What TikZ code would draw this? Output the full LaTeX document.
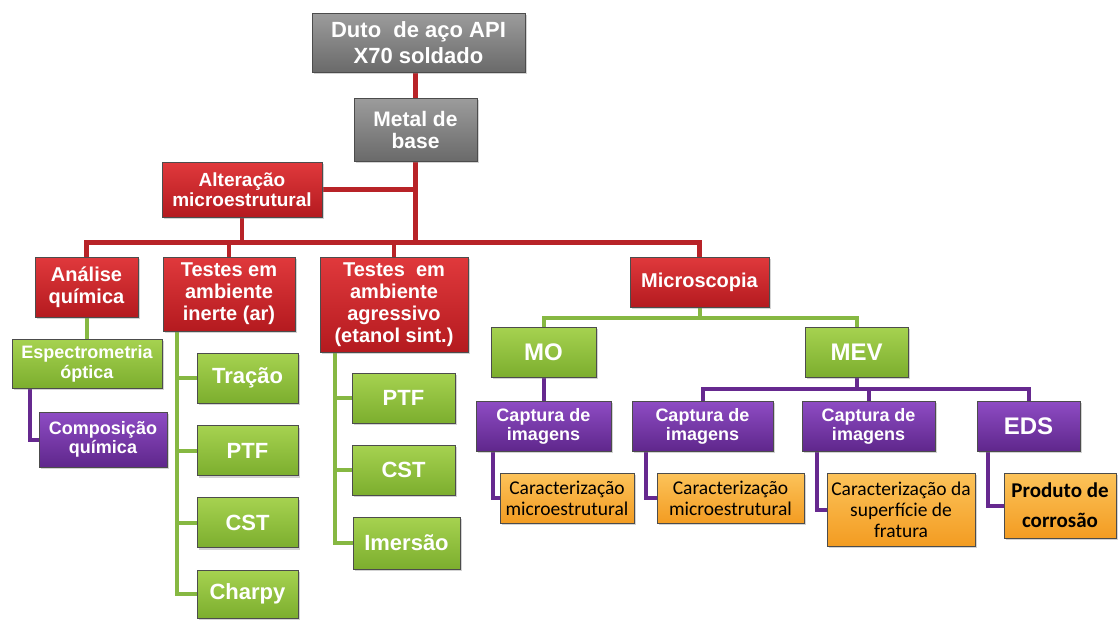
\documentclass[tikz,border=0pt]{standalone}
\usepackage{fontspec}
\setmainfont{Liberation Sans}
\newfontfamily\calib{Carlito}
\usetikzlibrary{calc,shadows,backgrounds}

\definecolor{cinzaclaro}{HTML}{9C9C9C}
\definecolor{cinzaesc}{HTML}{6A6A6A}
\definecolor{vermclaro}{HTML}{E0393C}
\definecolor{vermesc}{HTML}{B41A1F}
\definecolor{verdeclaro}{HTML}{A6D250}
\definecolor{verdeesc}{HTML}{7CAE2E}
\definecolor{roxoclaro}{HTML}{8E4CC4}
\definecolor{roxoesc}{HTML}{5F278C}
\definecolor{laranjaclaro}{HTML}{FCC35A}
\definecolor{laranjaesc}{HTML}{F39C22}
\definecolor{linhaverm}{HTML}{B82328}
\definecolor{linhaverde}{HTML}{86B842}
\definecolor{linharoxa}{HTML}{66298F}

\tikzset{
  caixa/.style={draw=black!70, line width=0.8pt, align=center, inner sep=0pt,
    text=white, drop shadow={shadow xshift=2pt, shadow yshift=-2pt, opacity=0.35}},
  wh/.style 2 args={minimum width=#1pt, minimum height=#2pt},
  fs/.style 2 args={font=\bfseries\fontsize{#1}{#2}\selectfont},
  cinzabox/.style={caixa, top color=cinzaclaro, bottom color=cinzaesc},
  vermbox/.style={caixa, top color=vermclaro, bottom color=vermesc},
  verdebox/.style={caixa, top color=verdeclaro, bottom color=verdeesc},
  roxobox/.style={caixa, top color=roxoclaro, bottom color=roxoesc},
  laranjabox/.style={caixa, top color=laranjaclaro, bottom color=laranjaesc,
    text=black, font=\calib\fontsize{19.5}{21}\selectfont},
  ligverm/.style={draw=linhaverm, line width=4.5pt},
  ligverde/.style={draw=linhaverde, line width=4pt},
  ligroxa/.style={draw=linharoxa, line width=4pt},
}

\begin{document}
\begin{tikzpicture}[x=1pt,y=-1pt]
  \useasboundingbox (0,0) rectangle (1118,619);

  \node[cinzabox, wh={213}{59}, fs={22}{26}] (duto) at (418.5,42.5) {Duto\ \ de aço API\\X70 soldado};
  \node[cinzabox, wh={123}{63}, fs={21}{22}] (metal) at (415.5,129.5) {Metal de\\base};
  \node[vermbox, wh={160}{55}, fs={19}{20}] (alter) at (242,189.5) {Alteração\\microestrutural};

  \node[vermbox, wh={103}{60}, fs={20}{22}] (analise) at (86.5,287) {Análise\\química};
  \node[vermbox, wh={132}{74}, fs={20}{22}] (inerte) at (229,294) {Testes em\\ambiente\\inerte (ar)};
  \node[vermbox, wh={148}{95}, fs={20}{22}] (agress) at (394,304.5) {Testes\ \ em\\ambiente\\agressivo\\(etanol sint.)};
  \node[vermbox, wh={139}{50}, fs={20}{22}] (micro) at (699.5,282) {Microscopia};

  \node[verdebox, wh={150}{49}, fs={18}{20}] (espec) at (87,363.5) {Espectrometria\\óptica};
  \node[roxobox, wh={128}{55}, fs={18}{19}] (compos) at (103,439.5) {Composição\\química};

  \node[verdebox, wh={101}{50}, fs={22}{24}] (tracao) at (247.5,378) {Tração};
  \node[verdebox, wh={101}{50}, fs={22}{24}] (ptf1) at (247.5,450.5) {PTF};
  \node[verdebox, wh={101}{50}, fs={22}{24}] (cst1) at (247.5,522.5) {CST};
  \node[verdebox, wh={101}{48}, fs={22}{24}] (charpy) at (247.5,594) {Charpy};

  \node[verdebox, wh={103}{50}, fs={22}{24}] (ptf2) at (403.5,398) {PTF};
  \node[verdebox, wh={103}{50}, fs={22}{24}] (cst2) at (403.5,470) {CST};
  \node[verdebox, wh={107}{52}, fs={22}{24}] (imersao) at (406.5,543) {Imersão};

  \node[verdebox, wh={105}{50}, fs={24}{26}] (mo) at (543.5,352) {MO};
  \node[verdebox, wh={103}{50}, fs={24}{26}] (mev) at (856.5,352) {MEV};

  \node[roxobox, wh={135}{50}, fs={18}{19}] (capt1) at (543.5,426) {Captura de\\imagens};
  \node[roxobox, wh={141}{50}, fs={18}{19}] (capt2) at (702.5,426) {Captura de\\imagens};
  \node[roxobox, wh={133}{50}, fs={18}{19}] (capt3) at (868.5,426) {Captura de\\imagens};
  \node[roxobox, wh={103}{50}, fs={24}{26}] (eds) at (1028.5,426) {EDS};

  \node[laranjabox, wh={134}{50}] (carac1) at (567,498) {Caracterização\\microestrutural};
  \node[laranjabox, wh={147}{50}] (carac2) at (730.5,498) {Caracterização\\microestrutural};
  \node[laranjabox, wh={148}{73}] (carac3) at (901,509.5) {Caracterização da\\superfície de\\fratura};
  \node[laranjabox, wh={112}{65}, font=\calib\bfseries\fontsize{21}{30}\selectfont] (prod) at (1060,505.5) {Produto de\\corrosão};

  \begin{scope}[on background layer]
    \draw[ligverm] (duto.south -| metal) -- (metal.north);
    \draw[ligverm] (metal.south) -- ++(0,82);
    \draw[ligverm] (alter.east) -- (alter.east -| metal.south);
    \draw[ligverm] (alter.south) -- ++(0,26);
    \draw[ligverm] (analise.north) -- ++(0,-14) -| (micro.north);
    \draw[ligverm] (inerte.north) -- ++(0,-14);
    \draw[ligverm] (agress.north) -- ++(0,-14);

    \draw[ligverde] (analise.south) -- (analise.south |- espec.north);
    \foreach \n in {tracao,ptf1,cst1,charpy}
      \draw[ligverde] ($(inerte.south west)+(14,0)$) |- (\n.west);
    \foreach \n in {ptf2,cst2,imersao}
      \draw[ligverde] ($(agress.south west)+(15,0)$) |- (\n.west);
    \draw[ligverde] (micro.south) -- ++(0,11);
    \draw[ligverde] (mo.north) -- ++(0,-9) -| (mev.north);

    \draw[ligroxa] ($(espec.south west)+(18,0)$) |- (compos.west);
    \draw[ligroxa] (mo) -- (capt1);
    \draw[ligroxa] (mev.south) -- ++(0,11);
    \draw[ligroxa] (capt2.north) -- ++(0,-12) -| (eds.north);
    \draw[ligroxa] (capt3.north) -- ++(0,-12);
    \foreach \a/\b/\d in {capt1/carac1/17,capt2/carac2/14,capt3/carac3/15,eds/prod/11}
      \draw[ligroxa] ($(\a.south west)+(\d,0)$) |- (\b.west);
  \end{scope}
\end{tikzpicture}
\end{document}
